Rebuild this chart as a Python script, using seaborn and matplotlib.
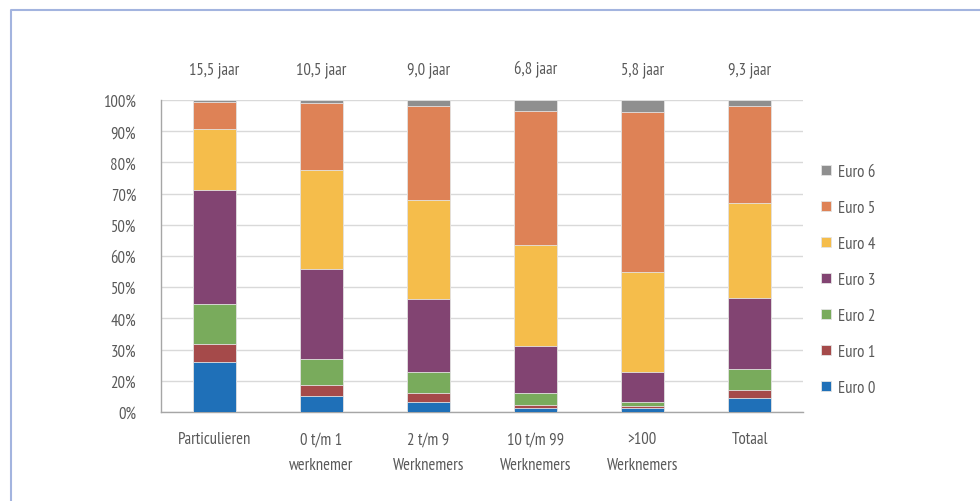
import matplotlib
matplotlib.use('Agg')
import matplotlib.pyplot as plt
import seaborn as sns
import pandas as pd
import numpy as np

categories = ['Particulieren', '0 t/m 1\nwerknemer', '2 t/m 9\nWerknemers',
              '10 t/m 99\nWerknemers', '>100\nWerknemers', 'Totaal']
ages = ['15,5 jaar', '10,5 jaar', '9,0 jaar', '6,8 jaar', '5,8 jaar', '9,3 jaar']

euro0 = [16.0, 5.1, 3.2, 1.3, 1.3, 4.6]
euro1 = [5.8, 3.4, 2.9, 0.8, 0.5, 2.3]
euro2 = [12.9, 8.6, 6.6, 4.0, 1.4, 6.8]
euro3 = [36.6, 28.8, 23.4, 15.1, 9.5, 22.7]
euro4 = [19.4, 31.6, 31.9, 32.4, 32.3, 30.5]
euro5 = [8.6, 21.4, 30.0, 42.8, 51.0, 31.1]
euro6 = [0.7, 1.1, 2.0, 3.6, 4.0, 2.0]

series_names = ['Euro 0', 'Euro 1', 'Euro 2', 'Euro 3', 'Euro 4', 'Euro 5', 'Euro 6']
colors = ['#1f70b8', '#a54a4a', '#79ab5c', '#824472', '#f5bd4b', '#de8256', '#8f8f8f']

# tick labels exactly as printed in the source chart (bottom to top)
ytick_labels = ['0%', '20%', '30%', '40%', '50%', '60%', '50%', '70%', '80%', '90%', '100%']

sns.set_style('white')
plt.rcParams['font.family'] = ['Myriad Pro', 'PT Sans Narrow', 'Fira Sans Condensed',
                               'Roboto Condensed', 'Archivo Narrow', 'Liberation Sans Narrow',
                               'DejaVu Sans']
text_color = '#595959'
fs = 12

df = pd.DataFrame({'cat': categories, 'Euro 0': euro0, 'Euro 1': euro1, 'Euro 2': euro2,
                   'Euro 3': euro3, 'Euro 4': euro4, 'Euro 5': euro5, 'Euro 6': euro6})
cum = df[series_names].cumsum(axis=1)

fig = plt.figure(figsize=(9.8, 5.02), dpi=100)
ax = fig.add_axes([0.1643, 0.1773, 0.6551, 0.6215])

# stacked bars: draw cumulative totals from the top series down
for name, col in zip(series_names[::-1], colors[::-1]):
    sns.barplot(x=df['cat'], y=cum[name], color=col, width=0.4, saturation=1,
                errorbar=None, edgecolor='#e4e4e4', linewidth=0.6, label=name, ax=ax, zorder=3)

ax.set_ylim(0, 100)
ax.set_xlim(-0.5, 5.5)
ax.set_yticks(np.arange(0, 101, 10))
ax.set_yticklabels(ytick_labels)
ax.set_xlabel('')
ax.set_ylabel('')
ax.grid(axis='y', color='#d9d9d9', lw=1, zorder=0)
ax.set_axisbelow(True)
for s in ['top', 'right']:
    ax.spines[s].set_visible(False)
for s in ['left', 'bottom']:
    ax.spines[s].set_color('#a6a6a6')
    ax.spines[s].set_linewidth(1.0)

ax.tick_params(axis='y', length=4, color='#a6a6a6', pad=14, labelsize=fs, labelcolor=text_color)
ax.tick_params(axis='x', which='major', length=0, pad=14, labelsize=fs, labelcolor=text_color)
ax.set_xticks(np.arange(-0.5, 6, 1), minor=True)
ax.tick_params(axis='x', which='minor', length=5, color='#a6a6a6', direction='out')
for lab in ax.get_xticklabels():
    lab.set_linespacing(1.8)
    lab.set_verticalalignment('top')

tr = ax.get_xaxis_transform()
for i, a in enumerate(ages):
    ax.text(i, 1.1, a, transform=tr, ha='center', va='center', fontsize=fs, color=text_color)

ax.legend(loc='upper left', bbox_to_anchor=(1.015, 0.822), frameon=False, fontsize=fs,
          handlelength=0.6, handleheight=0.6, labelspacing=1.2, handletextpad=0.45,
          labelcolor=text_color, borderpad=0)

# light blue frame around the chart
x0 = 11 / 980
y1 = 1 - 11 / 502
fig.add_artist(plt.Line2D([x0, x0, 1], [0, y1, y1], transform=fig.transFigure,
                          color='#a3b4df', lw=1.5))

fig.savefig('out.png', dpi=100)
